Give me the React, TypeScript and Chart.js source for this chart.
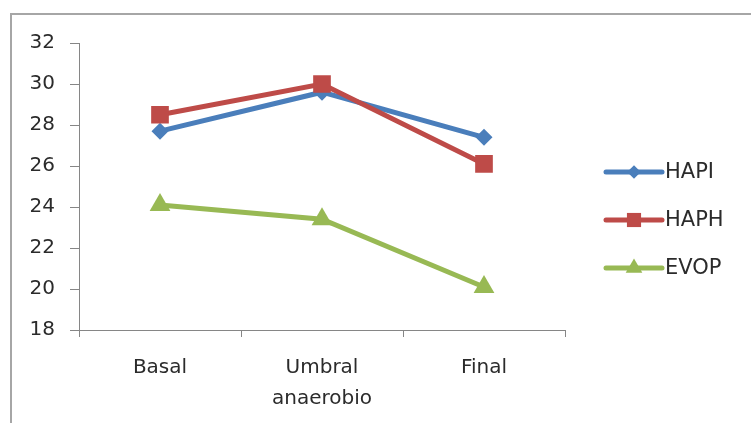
import React, { useEffect, useRef } from "react";
import { Chart, registerables } from "chart.js";

Chart.register(...registerables);

const categories: (string | string[])[] = ["Basal", ["Umbral", "anaerobio"], "Final"];
const hapi = [27.7, 29.6, 27.4];
const haph = [28.5, 30.0, 26.1];
const evop = [24.1, 23.4, 20.1];
const yMin = 18;
const yMax = 32;
const yStep = 2;

const FONT = "'DejaVu Sans', sans-serif";
const TEXT = "#2b2b2b";
const AXIS = "#868686";

const series = [
  { label: "HAPI", data: hapi, color: "#4a7ebb", style: "rectRot", radius: 8.5 },
  { label: "HAPH", data: haph, color: "#be4b48", style: "rect", radius: 12.5 },
  { label: "EVOP", data: evop, color: "#98b954", style: "triangle", radius: 12 },
];

function drawMarker(ctx: CanvasRenderingContext2D, style: string, x: number, y: number, r: number) {
  ctx.beginPath();
  if (style === "rect") {
    const s = r * Math.SQRT1_2;
    ctx.rect(x - s, y - s, 2 * s, 2 * s);
  } else if (style === "rectRot") {
    ctx.moveTo(x, y - r);
    ctx.lineTo(x + r, y);
    ctx.lineTo(x, y + r);
    ctx.lineTo(x - r, y);
    ctx.closePath();
  } else {
    const h = r * 1.5;
    const w = r * Math.sqrt(3);
    ctx.moveTo(x, y - r);
    ctx.lineTo(x + w / 2, y - r + h);
    ctx.lineTo(x - w / 2, y - r + h);
    ctx.closePath();
  }
  ctx.fill();
}

const legendPlugin = {
  id: "excelLegend",
  afterDraw(chart: any) {
    const ctx = chart.ctx as CanvasRenderingContext2D;
    const x0 = 606;
    const x1 = 662;
    const ys = [172, 220, 268];
    ctx.save();
    series.forEach((s, i) => {
      const y = ys[i];
      ctx.strokeStyle = s.color;
      ctx.fillStyle = s.color;
      ctx.lineWidth = 5;
      ctx.lineCap = "round";
      ctx.beginPath();
      ctx.moveTo(x0, y);
      ctx.lineTo(x1, y);
      ctx.stroke();
      drawMarker(ctx, s.style, (x0 + x1) / 2, y, s.radius * 0.8);
      ctx.fillStyle = TEXT;
      ctx.font = `21px ${FONT}`;
      ctx.textBaseline = "middle";
      ctx.textAlign = "left";
      ctx.fillText(s.label, x1 + 3, y + 1);
    });
    ctx.restore();
  },
};

export default function App() {
  const ref = useRef<HTMLCanvasElement | null>(null);

  useEffect(() => {
    if (!ref.current) return;
    const chart = new Chart(ref.current, {
      type: "line",
      data: {
        labels: categories as any,
        datasets: series.map((s, i) => ({
          label: s.label,
          data: s.data,
          order: series.length - i,
          borderColor: s.color,
          backgroundColor: s.color,
          borderWidth: 5,
          pointStyle: s.style as any,
          pointRadius: s.radius,
          pointBorderWidth: 0,
          pointBackgroundColor: s.color,
          tension: 0,
          fill: false,
        })),
      },
      options: {
        responsive: false,
        animation: false,
        layout: { padding: { top: 43, right: 186, left: 0, bottom: 0 } },
        plugins: { legend: { display: false }, tooltip: { enabled: false } },
        scales: {
          x: {
            offset: true,
            grid: {
              display: true,
              drawOnChartArea: false,
              drawTicks: true,
              tickLength: 7,
              offset: true,
              color: AXIS,
            },
            border: { display: true, color: AXIS, width: 1 },
            ticks: {
              color: TEXT,
              font: { family: FONT, size: 20, lineHeight: 1.55 },
              padding: 15,
              maxRotation: 0,
            },
            afterFit: (scale: any) => {
              scale.height = 93;
            },
          },
          y: {
            min: yMin,
            max: yMax,
            ticks: {
              stepSize: yStep,
              color: TEXT,
              font: { family: FONT, size: 20 },
              padding: 15,
            },
            grid: {
              display: true,
              drawOnChartArea: false,
              drawTicks: true,
              tickLength: 9,
              color: AXIS,
            },
            border: { display: true, color: AXIS, width: 1 },
            afterFit: (scale: any) => {
              scale.width = 79;
            },
          },
        },
      },
      plugins: [legendPlugin],
    });
    return () => chart.destroy();
  }, []);

  return (
    <div
      style={{
        position: "fixed",
        left: 0,
        top: 0,
        width: 751,
        height: 423,
        overflow: "hidden",
        background: "#ffffff",
      }}
    >
      <div
        style={{
          position: "absolute",
          left: 10,
          top: 13,
          width: 800,
          height: 500,
          border: "2px solid #a6a6a6",
          boxSizing: "border-box",
        }}
      />
      <canvas
        ref={ref}
        width={751}
        height={423}
        style={{ position: "absolute", left: 0, top: 0, width: 751, height: 423 }}
      />
    </div>
  );
}
